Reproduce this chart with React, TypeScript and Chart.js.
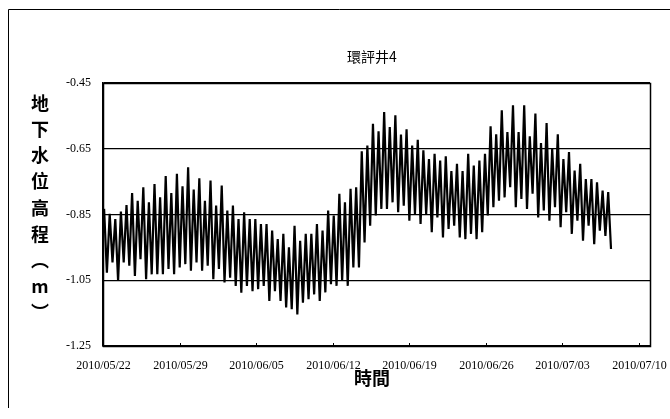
import React, { useEffect, useRef } from "react";
import { Chart, registerables } from "chart.js";

Chart.register(...registerables);

const title = "環評井4";
const xTitle = "時間";
const yTitleChars = ["地", "下", "水", "位", "高", "程", "︵", "m", "︶"];

const tickLabels = [
  "2010/05/22", "2010/05/29", "2010/06/05", "2010/06/12",
  "2010/06/19", "2010/06/26", "2010/07/03", "2010/07/10",
];
const tickDays = [0, 7, 14, 21, 28, 35, 42, 49];

// one tidal half-cycle per entry (day offset from 2010/05/22)
const startDay = 0.1;
const stepDay = 0.512;

const highs = [
  -0.833, -0.848, -0.864, -0.841, -0.821, -0.785, -0.808, -0.767, -0.813, -0.757,
  -0.798, -0.733, -0.785, -0.726, -0.764, -0.706, -0.774, -0.740, -0.808, -0.747,
  -0.823, -0.762, -0.838, -0.823, -0.864, -0.843, -0.864, -0.864, -0.879, -0.879,
  -0.899, -0.925, -0.909, -0.950, -0.884, -0.930, -0.909, -0.909, -0.879, -0.899,
  -0.838, -0.853, -0.787, -0.813, -0.772, -0.767, -0.658, -0.640, -0.574, -0.597,
  -0.538, -0.584, -0.548, -0.607, -0.591, -0.640, -0.623, -0.655, -0.681, -0.665,
  -0.686, -0.673, -0.718, -0.696, -0.718, -0.665, -0.701, -0.686, -0.665, -0.582,
  -0.606, -0.533, -0.599, -0.518, -0.599, -0.518, -0.612, -0.543, -0.633, -0.572,
  -0.650, -0.606, -0.681, -0.660, -0.716, -0.696, -0.742, -0.742, -0.752, -0.777, -0.782,
];

const lows = [
  -1.027, -0.996, -1.052, -0.996, -1.006, -1.037, -0.986, -1.047, -1.032, -1.032,
  -1.032, -1.016, -1.032, -1.011, -1.001, -1.021, -0.996, -1.021, -1.006, -1.047,
  -1.016, -1.057, -1.042, -1.067, -1.088, -1.067, -1.083, -1.077, -1.067, -1.113,
  -1.083, -1.113, -1.133, -1.138, -1.154, -1.118, -1.108, -1.093, -1.113, -1.087,
  -1.062, -1.067, -1.052, -1.067, -1.011, -1.011, -0.935, -0.884, -0.853, -0.833,
  -0.833, -0.813, -0.843, -0.823, -0.869, -0.848, -0.879, -0.848, -0.904, -0.859,
  -0.920, -0.894, -0.884, -0.920, -0.925, -0.909, -0.925, -0.904, -0.853, -0.828,
  -0.808, -0.798, -0.767, -0.828, -0.803, -0.833, -0.787, -0.859, -0.838, -0.869,
  -0.828, -0.889, -0.843, -0.909, -0.869, -0.930, -0.884, -0.940, -0.899, -0.915, -0.955,
];

const W = 662;
const H = 400;

export default function App() {
  const ref = useRef<HTMLCanvasElement | null>(null);

  useEffect(() => {
    if (!ref.current) return;
    const pts: { x: number; y: number }[] = [];
    highs.forEach((h, i) => {
      const t = startDay + i * stepDay;
      pts.push({ x: t, y: h });
      pts.push({ x: t + stepDay / 2, y: lows[i] });
    });

    const decor = {
      id: "decor",
      afterDraw(chart: any) {
        const ctx = chart.ctx;
        const a = chart.chartArea;
        const xs = chart.scales.x;
        ctx.save();
        ctx.strokeStyle = "#000";
        ctx.lineWidth = 1;
        // outer frame
        ctx.beginPath();
        ctx.moveTo(0.5, H);
        ctx.lineTo(0.5, 1.5);
        ctx.lineTo(W, 1.5);
        ctx.stroke();
        // plot frame
        ctx.lineWidth = 1.5;
        ctx.strokeRect(Math.round(a.left) + 0.5, Math.round(a.top) + 0.5, Math.round(a.right - a.left), Math.round(a.bottom - a.top));
        // inward tick marks + tick labels
        ctx.lineWidth = 1;
        ctx.fillStyle = "#000";
        ctx.textAlign = "center";
        ctx.textBaseline = "middle";
        ctx.font = "12px 'Liberation Serif'";
        tickDays.forEach((d, i) => {
          const px = Math.round(xs.getPixelForValue(d)) + 0.5;
          ctx.beginPath();
          ctx.moveTo(px, a.bottom);
          ctx.lineTo(px, a.bottom - 3);
          ctx.stroke();
          ctx.fillText(tickLabels[i], px, a.bottom + 20);
        });
        ctx.font = "14px 'Noto Sans CJK TC'";
        ctx.fillText(title, 364, 49);
        ctx.font = "bold 18px 'Noto Sans CJK TC'";
        ctx.fillText(xTitle, 364, 370);
        yTitleChars.forEach((c, i) => {
          ctx.fillText(c, 32, 95 + i * 26.2);
        });
        ctx.restore();
      },
    };

    const chart = new Chart(ref.current, {
      type: "line",
      data: {
        datasets: [
          {
            data: pts,
            borderColor: "#000",
            borderWidth: 2.2,
            pointRadius: 0,
            tension: 0,
          },
        ],
      },
      options: {
        animation: false,
        responsive: false,
        parsing: false as any,
        layout: { padding: { top: 75, right: 20, bottom: 12, left: 0 } },
        plugins: {
          legend: { display: false },
          tooltip: { enabled: false },
        },
        scales: {
          x: {
            type: "linear",
            min: 0,
            max: 50,
            afterFit: (s: any) => { s.height = 50; },
            grid: { display: false, drawTicks: false },
            border: { display: true, color: "#000", width: 1.5 },
            ticks: { display: false },
          },
          y: {
            type: "linear",
            min: -1.25,
            max: -0.45,
            afterFit: (s: any) => { s.width = 95; },
            grid: { color: "#000", lineWidth: 1.2, drawTicks: false },
            border: { display: true, color: "#000", width: 1.5 },
            ticks: {
              stepSize: 0.2,
              padding: 12,
              color: "#000",
              font: { family: "'Liberation Serif'", size: 12 },
              callback: (v: any) => Number(v).toFixed(2),
            },
          },
        },
      },
      plugins: [decor],
    });
    return () => chart.destroy();
  }, []);

  return (
    <div style={{ position: "fixed", left: 8, top: 8, width: W, height: H }}>
      <canvas ref={ref} width={W} height={H} style={{ width: W, height: H, display: "block" }} />
    </div>
  );
}
